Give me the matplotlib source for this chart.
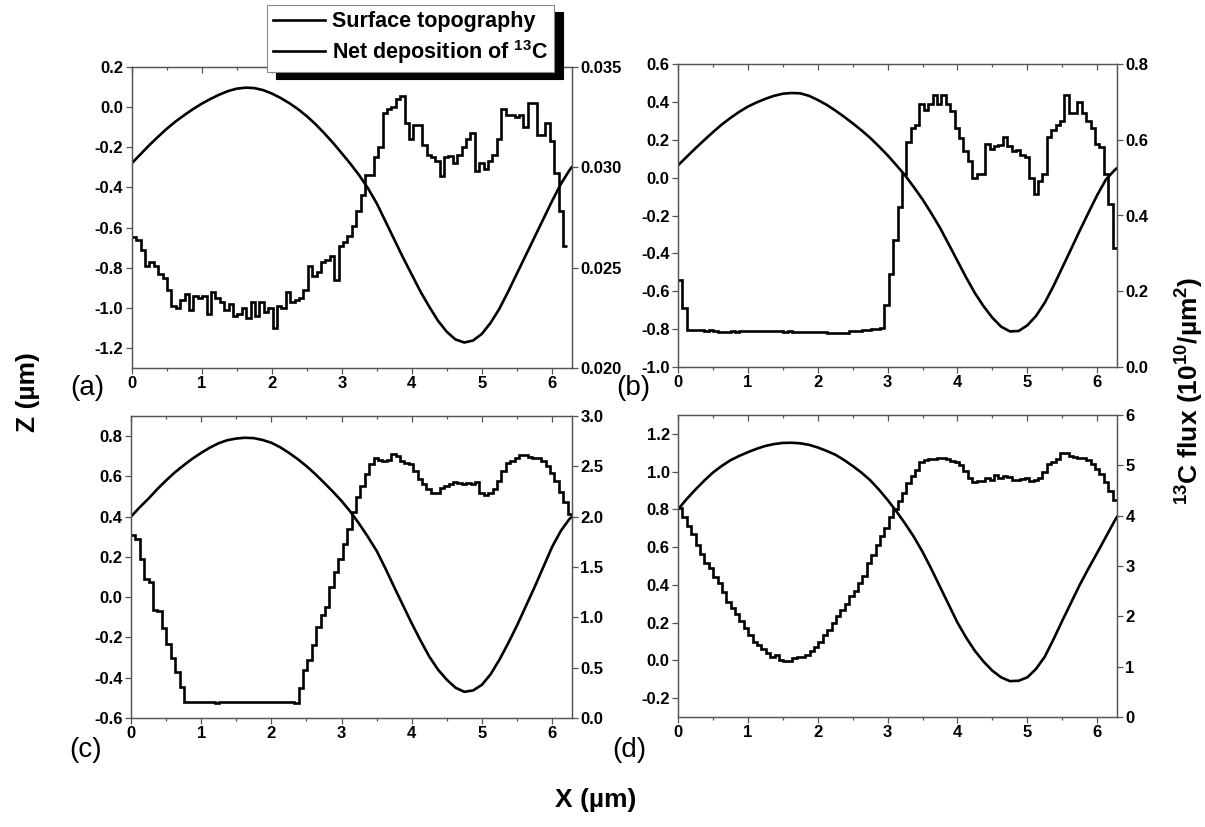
import numpy as np
import matplotlib
matplotlib.use('Agg')
import matplotlib.pyplot as plt
from matplotlib.ticker import MultipleLocator, FormatStrFormatter

plt.rcParams['font.family'] = ['Liberation Sans', 'DejaVu Sans']
plt.rcParams['font.weight'] = 'bold'
plt.rcParams['axes.unicode_minus'] = False
plt.rcParams['mathtext.fontset'] = 'custom'
plt.rcParams['mathtext.rm'] = 'Liberation Sans:bold'
plt.rcParams['mathtext.default'] = 'rm'

# surface profile sampled along x (um)
x_topo = [0, 0.125, 0.25, 0.375, 0.5, 0.625, 0.75, 0.875, 1.0, 1.125, 1.25, 1.375, 1.5,
          1.625, 1.75, 1.875, 2.0, 2.125, 2.25, 2.375, 2.5, 2.625, 2.75, 2.875, 3.0,
          3.125, 3.25, 3.375, 3.5, 3.625, 3.75, 3.875, 4.0, 4.125, 4.25, 4.375, 4.5,
          4.625, 4.75, 4.875, 5.0, 5.125, 5.25, 5.375, 5.5, 5.625, 5.75, 5.875, 6.0,
          6.125, 6.25, 6.283]

topo_a = [-0.28, -0.235, -0.19, -0.148, -0.108, -0.072, -0.04, -0.01, 0.017, 0.041, 0.062, 0.080, 0.092,
          0.097, 0.095, 0.085, 0.068, 0.046, 0.02, -0.01, -0.045, -0.085, -0.13, -0.178, -0.23,
          -0.283, -0.34, -0.405, -0.48, -0.57, -0.66, -0.75, -0.835, -0.92, -0.995, -1.065, -1.12,
          -1.158, -1.173, -1.163, -1.13, -1.075, -1.005, -0.92, -0.83, -0.74, -0.65, -0.56, -0.47,
          -0.385, -0.315, -0.30]
topo_b = [0.065, 0.11, 0.155, 0.198, 0.24, 0.28, 0.315, 0.347, 0.375, 0.397, 0.416, 0.432, 0.443,
          0.447, 0.445, 0.432, 0.41, 0.385, 0.355, 0.322, 0.287, 0.25, 0.21, 0.165, 0.118,
          0.066, 0.012, -0.05, -0.115, -0.188, -0.265, -0.352, -0.44, -0.528, -0.61, -0.68, -0.74,
          -0.787, -0.812, -0.81, -0.78, -0.73, -0.66, -0.572, -0.475, -0.378, -0.28, -0.185, -0.092,
          -0.01, 0.04, 0.05]
topo_c = [0.40, 0.447, 0.49, 0.537, 0.58, 0.62, 0.655, 0.688, 0.717, 0.743, 0.765, 0.78, 0.788,
          0.792, 0.79, 0.781, 0.767, 0.745, 0.717, 0.686, 0.651, 0.612, 0.569, 0.525, 0.478,
          0.425, 0.365, 0.30, 0.23, 0.143, 0.05, -0.04, -0.13, -0.215, -0.295, -0.36, -0.41,
          -0.45, -0.47, -0.463, -0.435, -0.382, -0.31, -0.228, -0.14, -0.045, 0.05, 0.15, 0.25,
          0.33, 0.39, 0.40]
topo_d = [0.80, 0.855, 0.905, 0.952, 0.995, 1.03, 1.06, 1.083, 1.103, 1.121, 1.136, 1.146, 1.152,
          1.153, 1.15, 1.142, 1.128, 1.11, 1.09, 1.062, 1.03, 0.995, 0.955, 0.905, 0.85,
          0.79, 0.725, 0.655, 0.575, 0.485, 0.39, 0.295, 0.20, 0.12, 0.05, -0.007, -0.055,
          -0.09, -0.11, -0.108, -0.09, -0.045, 0.02, 0.112, 0.21, 0.305, 0.40, 0.487, 0.57,
          0.655, 0.74, 0.76]

# 13C net deposition per surface bin (bin width 2*pi/100 um)
bin_w = 2 * np.pi / 100

flux_a = [0.02655, 0.0264, 0.0259, 0.0251, 0.0253, 0.0251, 0.0247, 0.0245, 0.0239, 0.0231,
          0.0230, 0.0234, 0.0237, 0.0229, 0.0236, 0.0235, 0.0236, 0.0227, 0.0238, 0.0235,
          0.0233, 0.0229, 0.0232, 0.0226, 0.0227, 0.0230, 0.0225, 0.0233, 0.0226, 0.0233,
          0.0228, 0.0230, 0.0220, 0.0231, 0.0230, 0.0238, 0.0233, 0.0234, 0.0235, 0.0239,
          0.0251, 0.0246, 0.0248, 0.0253, 0.0254, 0.0256, 0.0244, 0.0261, 0.0263, 0.0266,
          0.0271, 0.0278, 0.0286, 0.0296, 0.0296, 0.0305, 0.0310, 0.0327, 0.0329, 0.0330,
          0.0334, 0.03355, 0.0322, 0.0314, 0.0321, 0.0321, 0.0311, 0.0306, 0.0305, 0.0303,
          0.02955, 0.0305, 0.03055, 0.0302, 0.0306, 0.0310, 0.0314, 0.0317, 0.0298, 0.0302,
          0.0299, 0.0303, 0.0306, 0.0314, 0.0329, 0.0326, 0.0326, 0.0325, 0.0326, 0.0320,
          0.0332, 0.0332, 0.0316, 0.0316, 0.0322, 0.0313, 0.0297, 0.0278, 0.0261]

flux_b = [0.23, 0.155,
          0.098, 0.097, 0.098, 0.097, 0.096, 0.097, 0.095,
          0.093, 0.092, 0.093, 0.094, 0.093,
          0.095, 0.094, 0.095, 0.095, 0.094, 0.095, 0.094, 0.094, 0.095, 0.094, 0.093, 0.094,
          0.093, 0.092, 0.093, 0.093, 0.092, 0.093, 0.092, 0.092,
          0.091, 0.090, 0.091, 0.090, 0.091,
          0.094, 0.095, 0.096, 0.097, 0.098,
          0.100, 0.101, 0.102,
          0.1625, 0.245, 0.335, 0.4225, 0.51, 0.595, 0.63, 0.64, 0.695, 0.6775,
          0.695, 0.7175, 0.695, 0.7175, 0.695, 0.675, 0.63, 0.605, 0.57, 0.545,
          0.50, 0.51, 0.51, 0.59, 0.575, 0.5825, 0.585, 0.6075, 0.5825, 0.57,
          0.5725, 0.56, 0.555, 0.50, 0.4575, 0.49, 0.51, 0.6075, 0.625, 0.64,
          0.65, 0.7175, 0.67, 0.67, 0.70, 0.67, 0.65, 0.63, 0.59, 0.58,
          0.51, 0.43, 0.315]

flux_c = [1.82, 1.78, 1.58, 1.38, 1.35, 1.07, 1.06, 0.89, 0.74, 0.60, 0.46, 0.31,
          0.16, 0.16, 0.16, 0.16, 0.16, 0.16, 0.16, 0.15, 0.16, 0.16, 0.16, 0.16, 0.16,
          0.16, 0.16, 0.16, 0.16, 0.16, 0.16, 0.16, 0.16, 0.16, 0.16, 0.16, 0.16, 0.15,
          0.30, 0.48, 0.58, 0.73, 0.90, 1.02, 1.10, 1.30, 1.45, 1.58, 1.73, 1.88,
          2.05, 2.20, 2.30, 2.42, 2.52, 2.58,
          2.56, 2.55, 2.56, 2.62, 2.60, 2.55, 2.535, 2.52, 2.45, 2.37, 2.32, 2.27,
          2.235, 2.235, 2.28, 2.30, 2.32, 2.34, 2.33, 2.32, 2.33, 2.32, 2.345, 2.24,
          2.22, 2.235, 2.27, 2.35, 2.45, 2.535, 2.55, 2.58, 2.61, 2.61, 2.59, 2.585,
          2.58, 2.55, 2.50, 2.435, 2.35, 2.25, 2.15, 2.03]

flux_d = [4.15, 3.975, 3.79, 3.64, 3.41, 3.24, 3.06, 2.96, 2.79, 2.66,
          2.475, 2.29, 2.16, 2.04, 1.91, 1.76, 1.63, 1.50, 1.425, 1.35,
          1.27, 1.20, 1.24, 1.14, 1.11, 1.11, 1.17, 1.20, 1.19, 1.24,
          1.305, 1.40, 1.50, 1.635, 1.73, 1.87, 2.00, 2.13, 2.25, 2.40,
          2.51, 2.66, 2.81, 3.06, 3.225, 3.41, 3.60, 3.75, 3.975, 4.125,
          4.29, 4.46, 4.65, 4.78, 4.91, 5.06, 5.11, 5.12, 5.12, 5.14,
          5.14, 5.12, 5.09, 5.07, 5.01, 4.89, 4.755, 4.66, 4.68, 4.695,
          4.74, 4.71, 4.81, 4.755, 4.78, 4.76, 4.71, 4.71, 4.73, 4.74,
          4.68, 4.71, 4.74, 4.875, 5.025, 5.06, 5.12, 5.25, 5.24, 5.19,
          5.16, 5.14, 5.14, 5.10, 5.025, 4.93, 4.82, 4.67, 4.50, 4.31]

x_ticks = [0, 1, 2, 3, 4, 5, 6]
z_ticks_a = [-1.2, -1.0, -0.8, -0.6, -0.4, -0.2, 0.0, 0.2]
z_ticks_b = [-1.0, -0.8, -0.6, -0.4, -0.2, 0.0, 0.2, 0.4, 0.6]
z_ticks_c = [-0.6, -0.4, -0.2, 0.0, 0.2, 0.4, 0.6, 0.8]
z_ticks_d = [-0.2, 0.0, 0.2, 0.4, 0.6, 0.8, 1.0, 1.2]
f_ticks_a = [0.020, 0.025, 0.030, 0.035]
f_ticks_b = [0.0, 0.2, 0.4, 0.6, 0.8]
f_ticks_c = [0.0, 0.5, 1.0, 1.5, 2.0, 2.5, 3.0]
f_ticks_d = [0, 1, 2, 3, 4, 5, 6]

frame_col = '#555555'

fig = plt.figure(figsize=(12.05, 8.27), dpi=100)


def draw_panel(rect, topo, flux, zlim, zticks, flim, fticks, ffmt):
    ax = fig.add_axes(rect)
    topo_line, = ax.plot(x_topo, topo, color='k', lw=1.9, solid_joinstyle='round')
    ax.set_xlim(0, 2 * np.pi)
    ax.set_ylim(*zlim)
    ax.set_xticks(x_ticks)
    ax.xaxis.set_minor_locator(MultipleLocator(0.5))
    ax.set_yticks(zticks)
    ax.yaxis.set_major_formatter(FormatStrFormatter('%.1f'))
    ax.tick_params(axis='both', which='both', direction='out', color=frame_col,
                   labelsize=12, width=0.9, pad=2)
    ax.tick_params(which='major', length=4)
    ax.tick_params(which='minor', length=2.5)

    ax2 = ax.twinx()
    edges = np.arange(len(flux) + 1) * bin_w
    step = ax2.stairs(flux, edges, baseline=None, color='k', lw=1.9)
    ax2.set_ylim(*flim)
    ax2.set_yticks(fticks)
    ax2.yaxis.set_major_formatter(FormatStrFormatter(ffmt))
    ax2.tick_params(axis='y', direction='out', color=frame_col, labelsize=12,
                    length=4, width=0.9, pad=2)
    # inward ticks along the top edge
    ax2.xaxis.set_visible(True)
    ax2.tick_params(axis='x', which='both', bottom=False, top=True,
                    labelbottom=False, labeltop=False, direction='in',
                    color=frame_col, width=0.9)
    ax2.tick_params(axis='x', which='major', length=4)
    ax2.tick_params(axis='x', which='minor', length=2.5)
    for a in (ax, ax2):
        for sp in a.spines.values():
            sp.set_color(frame_col)
            sp.set_linewidth(0.9)
    return topo_line, step


W, H = 1205.0, 827.0
h_a, s_a = draw_panel([131.7 / W, 1 - 368 / H, 440 / W, 301 / H], topo_a, flux_a,
                      (-1.3, 0.2), z_ticks_a, (0.020, 0.035), f_ticks_a, '%.3f')
draw_panel([678 / W, 1 - 367 / H, 439 / W, 303 / H], topo_b, flux_b,
           (-1.0, 0.6), z_ticks_b, (0.0, 0.8), f_ticks_b, '%.1f')
draw_panel([131 / W, 1 - 718 / H, 441 / W, 302 / H], topo_c, flux_c,
           (-0.6, 0.9), z_ticks_c, (0.0, 3.0), f_ticks_c, '%.1f')
draw_panel([678 / W, 1 - 717 / H, 439 / W, 302 / H], topo_d, flux_d,
           (-0.3, 1.3), z_ticks_d, (0, 6), f_ticks_d, '%d')

# panel tags
for tag, tx, ty in [('(a)', 104, 388), ('(b)', 650, 388), ('(c)', 102, 750), ('(d)', 646, 750)]:
    fig.text(tx / W, 1 - ty / H, tag, ha='right', va='center', fontsize=20, fontweight='normal')

fig.text(596 / W, 1 - 800 / H, 'X (µm)', ha='center', va='center', fontsize=19)
fig.text(28 / W, 1 - 392 / H, 'Z (µm)', ha='center', va='center', fontsize=19, rotation=90)
fig.text(1190 / W, 1 - 391 / H, r'$^{13}$C flux (10$^{10}$/µm$^{2}$)', ha='center', va='center',
         fontsize=19, rotation=90)

leg = fig.legend([h_a, s_a], ['Surface topography', r'Net deposition of $^{13}$C'],
                 loc='upper left', bbox_to_anchor=(267 / W, 1 - 5 / H),
                 prop={'size': 15.5, 'weight': 'bold'}, fancybox=False, frameon=True,
                 handlelength=2.4, handletextpad=0.3, labelspacing=0.25,
                 borderpad=0.3, borderaxespad=0,
                 shadow={'ox': 6.3, 'oy': -5, 'facecolor': 'k', 'edgecolor': 'k', 'alpha': 1.0})
leg.get_frame().set_edgecolor('#888888')
leg.get_frame().set_linewidth(0.8)

fig.savefig('out.png', dpi=100)
